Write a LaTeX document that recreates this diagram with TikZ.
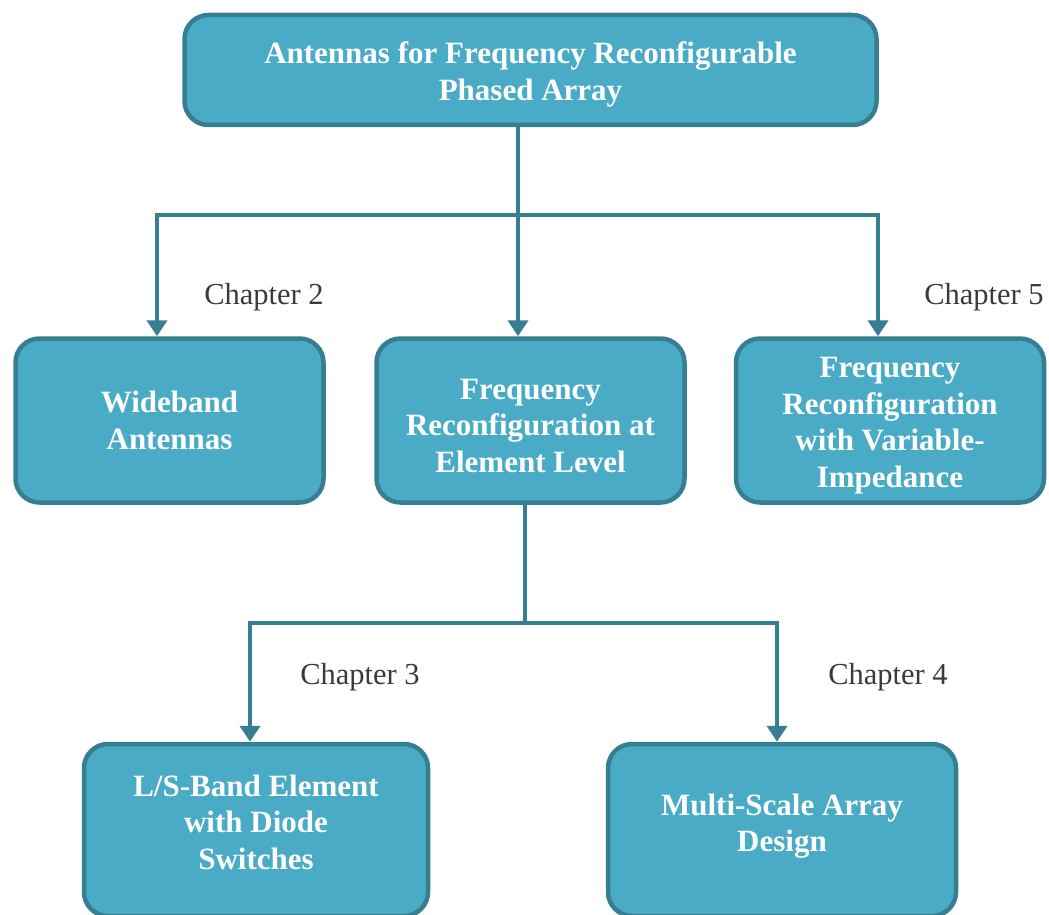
\documentclass[tikz,border=0pt]{standalone}
\usepackage{fontspec}
\setmainfont{Liberation Serif}
\usetikzlibrary{arrows.meta}
\definecolor{boxfill}{HTML}{4AABC6}
\definecolor{boxline}{HTML}{367E91}
\definecolor{chapgray}{HTML}{3A3A3A}
\newcommand{\downstrut}{\rule{0pt}{31pt}}
\tikzset{
  box/.style={draw=boxline, fill=boxfill, line width=4.5pt, rounded corners=24pt,
    align=center, text=white, inner sep=0pt,
    font=\fontsize{31}{36.5}\selectfont\bfseries},
  conn/.style={draw=boxline, line width=4pt},
  tipped/.style={conn, -{Triangle[width=20pt,length=16pt]}},
  chap/.style={text=chapgray, font=\fontsize{30.5}{36}\selectfont, inner sep=0pt}
}
\begin{document}
\begin{tikzpicture}[x=1pt,y=-1pt]
\useasboundingbox (0,0) rectangle (1049,915);
% boxes
\node[box, minimum width=692pt, minimum height=110pt] (top) at (530.5,70)
  {\downstrut Antennas for Frequency Reconfigurable\\Phased Array};
\node[box, minimum width=308pt, minimum height=164pt] (wb) at (169.5,420.5)
  {Wideband\\Antennas};
\node[box, minimum width=308pt, minimum height=164pt] (mid) at (530.5,420.5)
  {\downstrut Frequency\\Reconfiguration at\\Element Level};
\node[box, minimum width=308pt, minimum height=164pt] (rt) at (890,420.5)
  {\downstrut Frequency\\Reconfiguration\\with Variable-\\Impedance};
\node[box, minimum width=344pt, minimum height=172pt] (ls) at (256,830)
  {L/S-Band Element\\with Diode\\Switches\\[-20.5pt]};
\node[box, minimum width=348pt, minimum height=172pt] (ms) at (782,830)
  {Multi-Scale Array\\Design\\[-22pt]};
% junction coordinates
\coordinate (b1) at (518,215);
\coordinate (bl) at (157,215);
\coordinate (br) at (878,215);
\coordinate (b2) at (525,623);
\coordinate (bl2) at (250,623);
\coordinate (br2) at (777,623);
% connectors
\draw[conn] (top.south -| b1) -- (b1);
\draw[tipped] (b1) -- (bl) -- (bl |- wb.north);
\draw[tipped] (b1) -- (br) -- (br |- rt.north);
\draw[tipped] (b1) -- (b1 |- mid.north);
\draw[conn] (mid.south -| b2) -- (b2);
\draw[tipped] (b2) -- (bl2) -- (bl2 |- ls.north);
\draw[tipped] (b2) -- (br2) -- (br2 |- ms.north);
% chapter labels
\node[chap] (c2) at (264,297) {Chapter 2};
\node[chap] (c5) at (984,297) {Chapter 5};
\node[chap] (c3) at (360,677) {Chapter 3};
\node[chap] (c4) at (888,677) {Chapter 4};
\end{tikzpicture}
\end{document}
